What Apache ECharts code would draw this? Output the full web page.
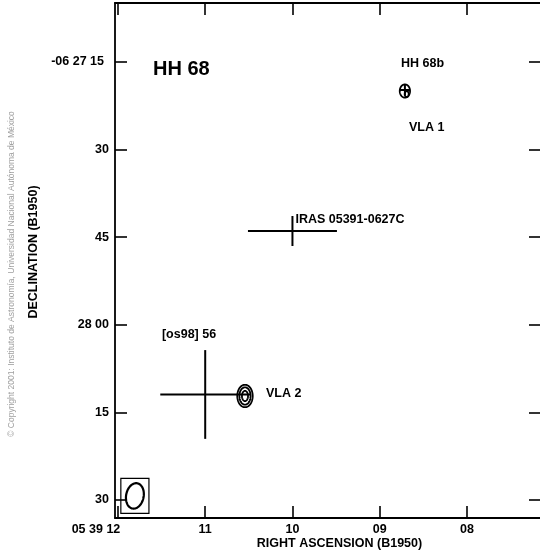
<!DOCTYPE html>
<html><head><meta charset="utf-8">
<script src="https://cdn.jsdelivr.net/npm/echarts@6/dist/echarts.min.js"></script>
<style>html,body{margin:0;padding:0;background:#fff}#c{width:540px;height:552px}</style>
</head><body><div id="c"></div>
<script>
// ---- axis ticks (RA in seconds of 05h39m, Dec in arcsec south of -06 27 00) ----
const raTicks = [12, 11, 10, 9, 8];
const raTickLabels = ['05 39 12', '11', '10', '09', '08'];
const decTicks = [15, 30, 45, 60, 75, 90];
const decTickLabels = ['-06 27 15', '30', '45', '28 00', '15', '30'];

// ---- position crosses ----
const crossNames = ['IRAS 05391-0627C', '[os98] 56', 'HH 68b'];
const crossRA = [10.0, 11.0, 8.711];
const crossDec = [43.94, 71.93, 19.8];
const crossErrRA = [0.51, 0.515, 0.058];   // half-length, s
const crossErrDec = [2.57, 7.6, 1.0];      // half-length, arcsec

// ---- radio contours (ellipse levels: ra, dec, semi-minor", semi-major") ----
const contourSrc = ['VLA 1', 'VLA 1', 'VLA 2', 'VLA 2', 'VLA 2'];
const contourRA = [8.711, 8.69, 10.544, 10.544, 10.544];
const contourDec = [19.97, 20.5, 72.19, 72.19, 72.19];
const contourMinor = [0.88, 0.34, 1.32, 0.96, 0.52];
const contourMajor = [1.13, 0.5, 1.92, 1.48, 0.88];

// ---- synthesized beam ----
const beamRA = [11.806];
const beamDec = [89.3];
const beamMaj = [2.2];    // semi-major, arcsec
const beamMin = [1.5];    // semi-minor, arcsec
const beamPA = [-11];     // deg
const beamBoxHalf = [[2.4, 3.0]]; // arcsec

// ---- text annotations ----
const annText = ['HH 68', 'HH 68b', 'VLA 1', 'IRAS 05391-0627C', '[os98] 56', 'VLA 2'];
const annRA = [11.599, 8.756, 8.665, 9.966, 11.496, 10.304];
const annDec = [16.2, 15.2, 26.3, 41.9, 61.75, 71.7];

const FONT = 'Liberation Sans, Arial, Helvetica, sans-serif';
const COSD = Math.cos(6.45 * Math.PI / 180);

function pxPerArcsec(api) {
  const sx = api.size([1, 0])[0] / (15 * COSD);
  const sy = api.size([0, 1])[1];
  return [sx, sy];
}
function ellipsePts(c, rx, ry, rotDeg) {
  const pts = [];
  const t = rotDeg * Math.PI / 180;
  for (let i = 0; i < 72; i++) {
    const a = i / 72 * 2 * Math.PI;
    const x = rx * Math.cos(a), y = ry * Math.sin(a);
    pts.push([c[0] + x * Math.cos(t) - y * Math.sin(t), c[1] + x * Math.sin(t) + y * Math.cos(t)]);
  }
  return pts;
}

const chart = echarts.init(document.getElementById('c'), null, {renderer: 'canvas'});
const axLine = {show: true, lineStyle: {color: '#000', width: 1.8}};
const tickStyle = {color: '#000', width: 1.6};
const lblStyle = {color: '#000', fontWeight: 'bold', fontSize: 12.5, fontFamily: FONT};

chart.setOption({
  animation: false,
  grid: {left: 115, top: 3, width: 426, height: 515, outerBoundsMode: 'none', containLabel: false},
  xAxis: [{
    type: 'value', position: 'bottom', inverse: true, min: 7.151, max: 12.034,
    axisLine: axLine, splitLine: {show: false},
    axisTick: {show: true, inside: true, length: 12, customValues: raTicks, lineStyle: tickStyle},
    axisLabel: Object.assign({
      customValues: raTicks, margin: 5,
      formatter: v => { const i = raTicks.indexOf(v); return i === 0 ? '{f|' + raTickLabels[0] + '}' : (raTickLabels[i] || ''); },
      rich: {f: Object.assign({padding: [0, 44, 0, 0]}, lblStyle)}
    }, lblStyle),
    name: 'RIGHT ASCENSION (B1950)', nameLocation: 'middle', nameGap: 19, nameMoveOverlap: false,
    nameTextStyle: Object.assign({padding: [0, 0, 0, 23]}, lblStyle)
  }, {
    type: 'value', position: 'top', inverse: true, min: 7.151, max: 12.034,
    axisLine: axLine, splitLine: {show: false}, axisLabel: {show: false},
    axisTick: {show: true, inside: true, length: 12, customValues: raTicks, lineStyle: tickStyle}
  }],
  yAxis: [{
    type: 'value', position: 'left', inverse: true, min: 4.90, max: 93.08,
    axisLine: axLine, splitLine: {show: false},
    axisTick: {show: true, inside: true, length: 12, customValues: decTicks, lineStyle: tickStyle},
    axisLabel: Object.assign({
      customValues: decTicks, margin: 6,
      formatter: v => { const i = decTicks.indexOf(v); return i === 0 ? '{g|' + decTickLabels[0] + '}' : (decTickLabels[i] || ''); },
      rich: {g: Object.assign({padding: [0, 5, 0, 0]}, lblStyle)}
    }, lblStyle),
    name: 'DECLINATION (B1950)', nameLocation: 'middle', nameGap: 75, nameMoveOverlap: false,
    nameTextStyle: Object.assign({padding: [0, 0, 0, 17]}, lblStyle)
  }, {
    type: 'value', position: 'right', inverse: true, min: 4.90, max: 93.08,
    axisLine: axLine, splitLine: {show: false}, axisLabel: {show: false},
    axisTick: {show: true, inside: true, length: 12, customValues: decTicks, lineStyle: tickStyle}
  }],
  graphic: [{
    type: 'text', x: 12, y: 274, rotation: Math.PI / 2, silent: true,
    style: {text: '© Copyright 2001: Instituto de Astronomía, Universidad Nacional Autónoma de México',
      fill: '#a0a0a0', font: '8.5px ' + FONT, align: 'center', verticalAlign: 'middle'}
  }],
  series: [{
    type: 'custom', name: 'crosses', coordinateSystem: 'cartesian2d', clip: false,
    data: crossRA.map((r, i) => [r, crossDec[i], crossErrRA[i], crossErrDec[i]]),
    renderItem: (params, api) => {
      const ra = api.value(0), de = api.value(1), er = api.value(2), ed = api.value(3);
      const a = api.coord([ra + er, de]), b = api.coord([ra - er, de]);
      const c = api.coord([ra, de - ed]), d = api.coord([ra, de + ed]);
      const st = {stroke: '#000', lineWidth: 2};
      return {type: 'group', children: [
        {type: 'line', shape: {x1: a[0], y1: a[1], x2: b[0], y2: b[1]}, style: st},
        {type: 'line', shape: {x1: c[0], y1: c[1], x2: d[0], y2: d[1]}, style: st}
      ]};
    }
  }, {
    type: 'custom', name: 'contours', coordinateSystem: 'cartesian2d', clip: false,
    data: contourRA.map((r, i) => [r, contourDec[i], contourMinor[i], contourMajor[i]]),
    renderItem: (params, api) => {
      const c = api.coord([api.value(0), api.value(1)]);
      const s = pxPerArcsec(api);
      return {type: 'polygon', shape: {points: ellipsePts(c, api.value(2) * s[0], api.value(3) * s[1], 0)},
        style: {fill: 'none', stroke: '#000', lineWidth: 1.8}};
    }
  }, {
    type: 'custom', name: 'beam', coordinateSystem: 'cartesian2d', clip: false,
    data: beamRA.map((r, i) => [r, beamDec[i], beamMin[i], beamMaj[i], beamPA[i], beamBoxHalf[i][0], beamBoxHalf[i][1]]),
    renderItem: (params, api) => {
      const c = api.coord([api.value(0), api.value(1)]);
      const s = pxPerArcsec(api);
      const bw = api.value(5) * s[0], bh = api.value(6) * s[1];
      return {type: 'group', children: [
        {type: 'rect', shape: {x: c[0] - bw, y: c[1] - bh, width: 2 * bw, height: 2 * bh},
          style: {fill: 'none', stroke: '#000', lineWidth: 1.2}},
        {type: 'polygon', shape: {points: ellipsePts(c, api.value(2) * s[0], api.value(3) * s[1], -api.value(4))},
          style: {fill: 'none', stroke: '#000', lineWidth: 2.2}}
      ]};
    }
  }, {
    type: 'custom', name: 'labels', coordinateSystem: 'cartesian2d', clip: false,
    data: annRA.map((r, i) => [r, annDec[i], i]),
    renderItem: (params, api) => {
      const i = api.value(2);
      const c = api.coord([api.value(0), api.value(1)]);
      return {type: 'text', x: c[0], y: c[1],
        style: {text: annText[i], fill: '#000', align: 'left', verticalAlign: 'middle',
          font: 'bold ' + (i === 0 ? 20 : 12.5) + 'px ' + FONT}};
    }
  }]
});
</script></body></html>
